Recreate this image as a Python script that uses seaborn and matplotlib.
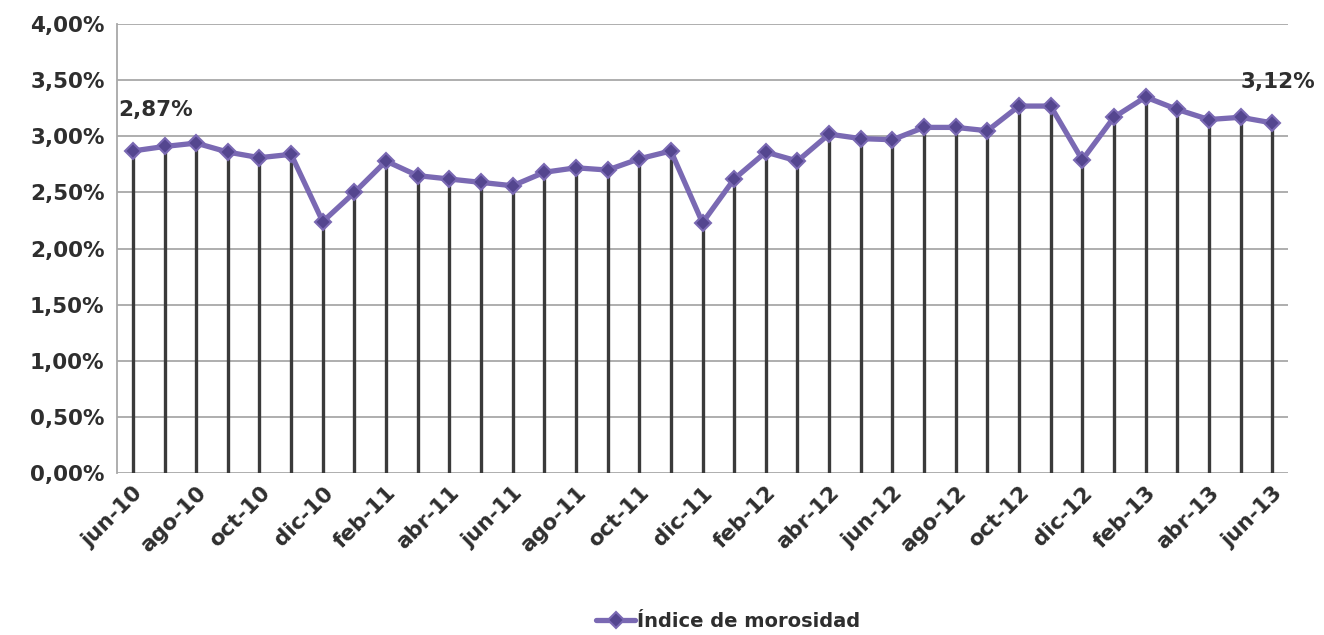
import matplotlib
matplotlib.use("Agg")
import matplotlib.pyplot as plt
import numpy as np
import pandas as pd
import seaborn as sns
from matplotlib.ticker import FuncFormatter, FixedLocator

# Monthly series, jun-10 .. jun-13
months = ["jun-10", "jul-10", "ago-10", "sep-10", "oct-10", "nov-10", "dic-10",
          "ene-11", "feb-11", "mar-11", "abr-11", "may-11", "jun-11", "jul-11",
          "ago-11", "sep-11", "oct-11", "nov-11", "dic-11", "ene-12", "feb-12",
          "mar-12", "abr-12", "may-12", "jun-12", "jul-12", "ago-12", "sep-12",
          "oct-12", "nov-12", "dic-12", "ene-13", "feb-13", "mar-13", "abr-13",
          "may-13", "jun-13"]
morosidad = [2.87, 2.91, 2.94, 2.86, 2.81, 2.84, 2.24,
             2.50, 2.78, 2.65, 2.62, 2.59, 2.56, 2.68,
             2.72, 2.70, 2.80, 2.87, 2.23, 2.62, 2.86,
             2.78, 3.02, 2.98, 2.97, 3.08, 3.08, 3.05,
             3.27, 3.27, 2.79, 3.17, 3.35, 3.24, 3.15,
             3.17, 3.12]
series_name = "Índice de morosidad"
y_ticks = [0.0, 0.5, 1.0, 1.5, 2.0, 2.5, 3.0, 3.5, 4.0]

df = pd.DataFrame({"pos": np.arange(len(months)), "valor": morosidad})

sns.set_theme(style="white")
plt.rcParams["font.family"] = ["DejaVu Sans"]

fig = plt.figure(figsize=(13.24, 6.35), dpi=100)
ax = fig.add_axes([0.0884, 0.255, 0.8844, 0.707])

text_color = "#2e2e2e"
line_color = "#7a69b3"
marker_color = "#54468f"
fs = 15.5

# horizontal grid
for yv in y_ticks:
    ax.axhline(yv, color="#a8a8a8", lw=1.3, zorder=0)

# drop lines from each point down to the axis
ax.vlines(df["pos"], 0, df["valor"], color="#3a3a3a", lw=2.4, zorder=1)

sns.lineplot(data=df, x="pos", y="valor", ax=ax, color=line_color, lw=3.8,
             marker="D", markersize=8, markerfacecolor=marker_color,
             markeredgecolor=line_color, markeredgewidth=1.5,
             label=series_name, zorder=3)

ax.set_xlim(-0.5, len(months) - 0.5)
ax.set_ylim(0, 4.0)
ax.yaxis.set_major_locator(FixedLocator(y_ticks))
ax.yaxis.set_major_formatter(FuncFormatter(lambda v, _: f"{v:.2f}%".replace(".", ",")))

tick_pos = list(range(0, len(months), 2))
ax.set_xticks(tick_pos)
ax.set_xticklabels([months[i] for i in tick_pos], rotation=45, ha="right",
                   rotation_mode="anchor")
ax.tick_params(axis="x", length=0, pad=7, labelsize=fs, labelcolor=text_color)
ax.tick_params(axis="y", length=0, pad=9, labelsize=fs, labelcolor=text_color)
for lab in ax.get_xticklabels() + ax.get_yticklabels():
    lab.set_fontweight("bold")
ax.set_xlabel("")
ax.set_ylabel("")

for side in ["top", "right", "bottom"]:
    ax.spines[side].set_visible(False)
ax.spines["left"].set_color("#a8a8a8")
ax.spines["left"].set_linewidth(1.3)

# value labels at first and last month
def pct(v):
    return f"{v:.2f}%".replace(".", ",")

ax.annotate(pct(morosidad[0]), (0, morosidad[0]), xytext=(16, 22),
            textcoords="offset points", ha="center", va="bottom",
            fontsize=fs, fontweight="bold", color=text_color)
ax.annotate(pct(morosidad[-1]), (len(months) - 1, morosidad[-1]), xytext=(4, 22),
            textcoords="offset points", ha="center", va="bottom",
            fontsize=fs, fontweight="bold", color=text_color, annotation_clip=False)

ax.legend(loc="center", bbox_to_anchor=(0.55, 0.022), bbox_transform=fig.transFigure,
          frameon=False, prop={"size": 14, "weight": "bold"}, handlelength=2.0,
          handletextpad=0.1, labelcolor=text_color)

fig.savefig("out.png", dpi=100, facecolor="white")
